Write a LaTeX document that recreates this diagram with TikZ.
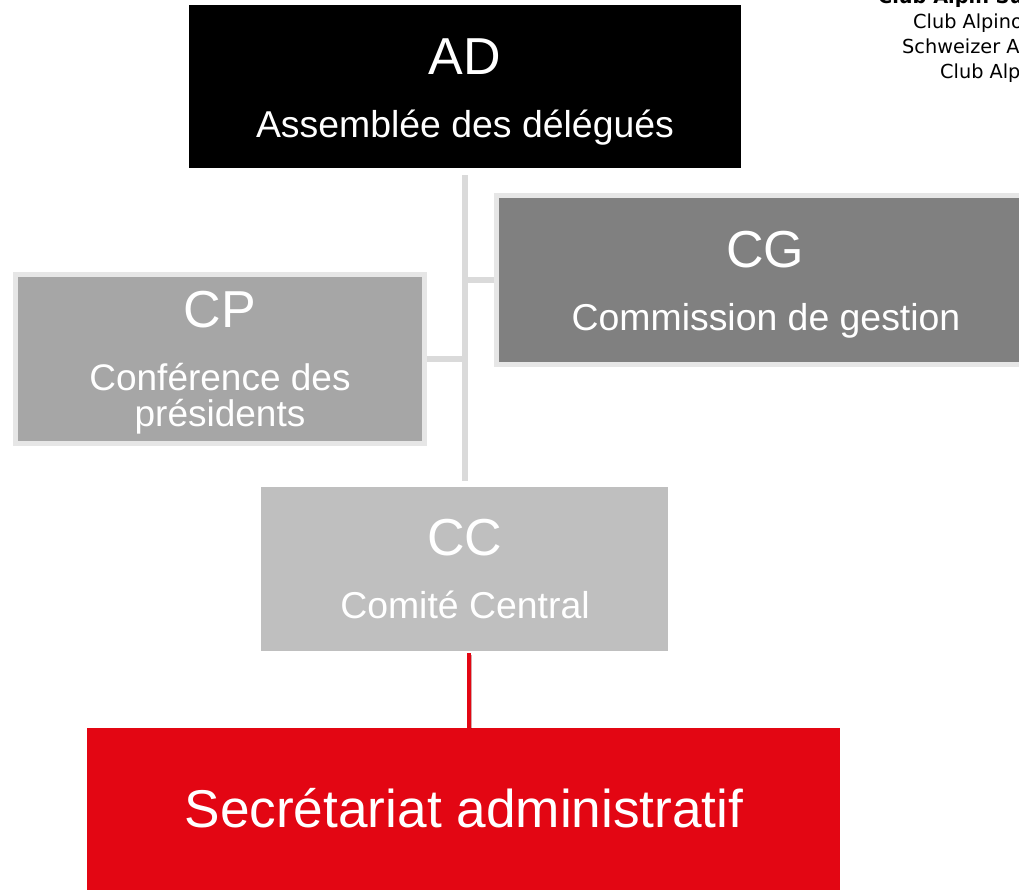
\documentclass[tikz,border=0pt]{standalone}
\usepackage{fontspec}
\setmainfont{Liberation Sans}
\newfontfamily\clubfont{DejaVu Sans}
\definecolor{cgfill}{HTML}{808080}
\definecolor{cpfill}{HTML}{A6A6A6}
\definecolor{ccfill}{HTML}{BFBFBF}
\definecolor{boxborder}{HTML}{E6E6E6}
\definecolor{linkgray}{HTML}{DADADA}
\definecolor{sacred}{HTML}{E30613}
\tikzset{
  orgbox/.style={rectangle, inner sep=0pt, outer sep=0pt},
  framed/.style={draw=boxborder, line width=5pt},
  bigabbr/.style={text=white, inner sep=0pt, anchor=base, font=\fontsize{52}{60}\selectfont},
  fullname/.style={text=white, inner sep=0pt, anchor=base, font=\fontsize{37.4}{40}\selectfont},
  graylink/.style={draw=linkgray, line width=6pt},
  redlink/.style={draw=sacred, line width=4pt},
  clubline/.style={inner sep=0pt, anchor=base west, font=\clubfont\fontsize{19.3}{22}\selectfont},
}
\begin{document}
\begin{tikzpicture}[x=1pt,y=-1pt]
\useasboundingbox (0,0) rectangle (1019,889);
\clip (0,0) rectangle (1019,889);
\fill[white] (0,0) rectangle (1019,889);

% boxes
\node[orgbox, fill=black, minimum width=552pt, minimum height=163pt] (ad) at (465,86.5) {};
\node[orgbox, framed, fill=cgfill, minimum width=543pt, minimum height=169pt] (cg) at (768,280) {};
\node[orgbox, framed, fill=cpfill, minimum width=409pt, minimum height=169pt] (cp) at (220,359) {};
\node[orgbox, fill=ccfill, minimum width=407pt, minimum height=164pt] (cc) at (464.5,569) {};
\node[orgbox, fill=sacred, minimum width=753pt, minimum height=172pt] (sec) at (463.5,814) {};

% connectors
\coordinate (spinetop) at ([yshift=-7pt]ad.south);
\coordinate (spinebot) at ([yshift=6pt]ad.south |- cc.north);
\draw[graylink] (spinetop) -- (spinebot);
\draw[graylink] ([xshift=-2.5pt]cg.west) -- (ad.south |- cg.west);
\draw[graylink] ([xshift=2.5pt]cp.east) -- (ad.south |- cp.east);
\draw[draw=sacred!60!black, line width=3pt, opacity=0.35] ([xshift=5.5pt,yshift=-4pt]cc.south) -- ([xshift=5.5pt,yshift=-1pt]cc.south |- sec.north);
\draw[redlink] ([xshift=4.5pt,yshift=-2pt]cc.south) -- ([xshift=4.5pt,yshift=-2pt]cc.south |- sec.north);

% texts
\node[bigabbr] (ad-abbr) at (465,74) {AD};
\node[fullname] (ad-name) at (465,137) {Assemblée des délégués};
\node[bigabbr] (cg-abbr) at (765,267) {CG};
\node[fullname] (cg-name) at (766,330) {Commission de gestion};
\node[bigabbr] (cp-abbr) at (220,327) {CP};
\node[fullname, align=center, font=\fontsize{37}{35.5}\selectfont] (cp-name) at (220,426) {Conférence des\\présidents};
\node[bigabbr] (cc-abbr) at (465,555) {CC};
\node[fullname] (cc-name) at (465,618) {Comité Central};
\node[text=white, inner sep=0pt, anchor=base, font=\fontsize{53.2}{60}\selectfont] (sec-name) at (464,827) {Secrétariat administratif};

% club names (top right)
\node[clubline, font=\clubfont\bfseries\fontsize{19.3}{22}\selectfont] (club-fr) at (878,3) {Club Alpin Suisse};
\node[clubline] (club-it) at (913,28) {Club Alpino Svizzero};
\node[clubline] (club-de) at (902,53) {Schweizer Alpen-Club};
\node[clubline] (club-rm) at (940,78) {Club Alpin Svizzer};
\end{tikzpicture}
\end{document}
